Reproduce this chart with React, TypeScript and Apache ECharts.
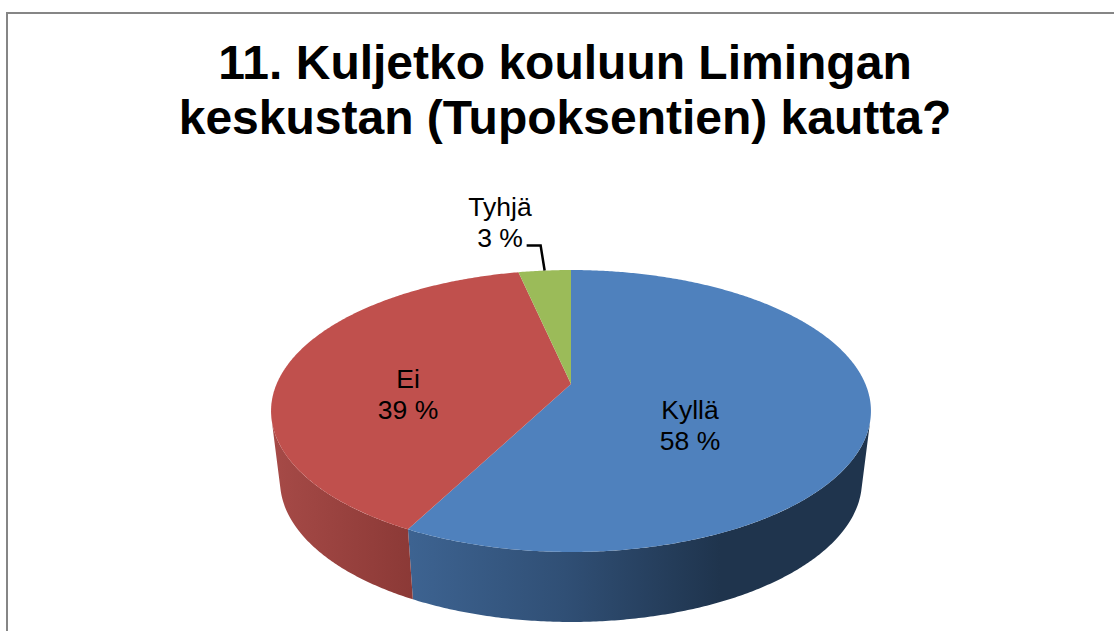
import React, { useEffect, useRef } from "react";
import * as echarts from "echarts";

const categories = ["Kyllä", "Ei", "Tyhjä"];
const shares = [57.6, 39.0, 3.4];
const percentLabels = ["58 %", "39 %", "3 %"];
const titleLines = ["11. Kuljetko kouluun Limingan", "keskustan (Tupoksentien) kautta?"];

const topColors = ["#4F81BD", "#C0504D", "#9BBB59"];
const FONT = '"Liberation Sans", Arial, sans-serif';

// Perspective projection of the pie's disc
const CX = 571;
const APEX_Y = 384;
const BOTTOM_APEX_Y = 454;
const A_TOP = 294.4;
const A_BOTTOM = 285.6;
const B = 135.8;
const K = 0.1915;
const SIDE_FROM = 105;
const SIDE_TO = 255;

const labelCentres = [
  [690, 425],
  [408, 394],
  [500, 222],
];

const rad = (d: number) => (d * Math.PI) / 180;
function rim(deg: number, apexY: number, a: number, r = 1): number[] {
  const s = Math.sin(rad(deg)) * r;
  const c = -Math.cos(rad(deg)) * r;
  const den = 1 - K * c;
  return [CX + (a * s) / den, apexY + (B * c) / den];
}
function arcPoints(from: number, to: number, apexY: number, a: number): number[][] {
  const n = Math.max(2, Math.ceil(Math.abs(to - from) * 2));
  const pts: number[][] = [];
  for (let i = 0; i <= n; i++) pts.push(rim(from + ((to - from) * i) / n, apexY, a));
  return pts;
}
function startAngle(index: number): number {
  let sum = 0;
  for (let i = 0; i < index; i++) sum += shares[i];
  return (sum / 100) * 360;
}

function sideFill(index: number) {
  if (index === 0) {
    return new echarts.graphic.LinearGradient(
      410, 0, 720, 0,
      [
        { offset: 0, color: "#3D6391" },
        { offset: 0.5, color: "#304F75" },
        { offset: 1, color: "#1F344D" },
      ],
      true
    );
  }
  return new echarts.graphic.LinearGradient(
    272, 0, 414, 0,
    [
      { offset: 0, color: "#A64A47" },
      { offset: 1, color: "#8B3936" },
    ],
    true
  );
}

export default function App() {
  const ref = useRef<HTMLDivElement>(null);
  useEffect(() => {
    document.body.style.margin = "0";
    document.documentElement.style.overflow = "hidden";
    const chart = echarts.init(ref.current!, undefined, { renderer: "svg" });
    chart.setOption({
      animation: false,
      backgroundColor: "#FFFFFF",
      title: {
        text: titleLines.join("\n"),
        left: 560,
        top: 30,
        textAlign: "center",
        textStyle: {
          fontFamily: FONT,
          fontSize: 48,
          fontWeight: "bold",
          color: "#000000",
          lineHeight: 55,
        },
      },
      graphic: [
        {
          type: "polyline",
          silent: true,
          shape: { points: [[7, 640], [7, 13], [1120, 13]] },
          style: { stroke: "#868686", lineWidth: 2, fill: "none" },
        },
      ],
      series: [
        {
          type: "custom",
          name: "sides",
          coordinateSystem: "none",
          silent: true,
          z: 2,
          data: shares,
          renderItem: (params: any, api: any) => {
            const i = params.dataIndex;
            const from = Math.max(startAngle(i), SIDE_FROM);
            const to = Math.min(startAngle(i) + (api.value(0) / 100) * 360, SIDE_TO);
            if (to <= from) return { type: "group", children: [] };
            const upper = arcPoints(from, to, APEX_Y, A_TOP);
            const lower = arcPoints(to, from, BOTTOM_APEX_Y, A_BOTTOM);
            return {
              type: "polygon",
              shape: { points: upper.concat(lower) },
              style: { fill: sideFill(i) },
            };
          },
        },
        {
          type: "custom",
          name: "tops",
          coordinateSystem: "none",
          silent: true,
          z: 3,
          data: shares,
          renderItem: (params: any, api: any) => {
            const i = params.dataIndex;
            const from = startAngle(i);
            const to = from + (api.value(0) / 100) * 360;
            return {
              type: "polygon",
              shape: { points: [[CX, APEX_Y]].concat(arcPoints(from, to, APEX_Y, A_TOP)) },
              style: { fill: topColors[i] },
            };
          },
        },
        {
          type: "custom",
          name: "labels",
          coordinateSystem: "none",
          silent: true,
          z: 4,
          data: shares,
          renderItem: (params: any, api: any) => {
            const i = params.dataIndex;
            const children: any[] = [
              {
                type: "text",
                x: labelCentres[i][0],
                y: labelCentres[i][1],
                style: {
                  text: categories[i] + "\n" + percentLabels[i],
                  font: "26.5px " + FONT,
                  fill: "#000000",
                  align: "center",
                  verticalAlign: "middle",
                  lineHeight: 31,
                },
              },
            ];
            if (i === 2) {
              const p = rim(startAngle(i) + (api.value(0) / 100) * 180, APEX_Y, A_TOP);
              children.push({
                type: "polyline",
                shape: {
                  points: [p, [p[0] - 4, p[1] - 25], [p[0] - 18, p[1] - 25]],
                },
                style: { stroke: "#000000", lineWidth: 2.5, fill: "none" },
              });
            }
            return { type: "group", children };
          },
        },
      ],
    });
    return () => chart.dispose();
  }, []);
  return <div ref={ref} style={{ width: 1114, height: 631 }} />;
}
